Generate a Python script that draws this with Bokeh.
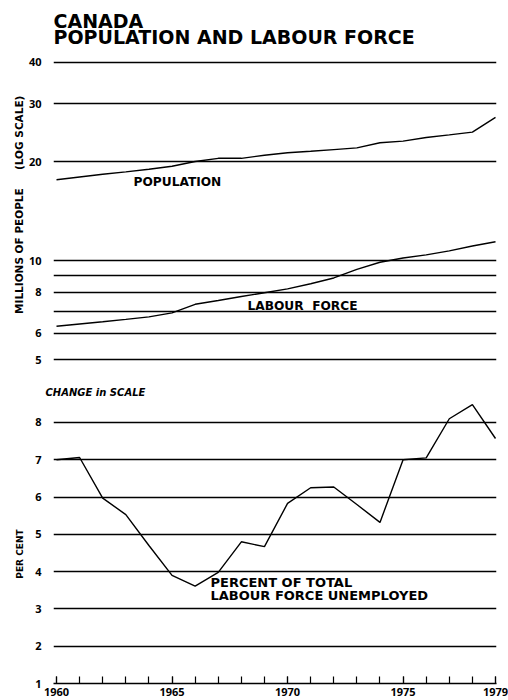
from bokeh.plotting import figure
from bokeh.layouts import column
from bokeh.models import Range1d, FixedTicker, Title, NumeralTickFormatter
from bokeh.embed import file_html
from bokeh.resources import INLINE
from bokeh.core.properties import value

# ---------------- data ----------------
years = list(range(1960, 1980))
population = [17.6, 17.95, 18.3, 18.6, 18.95, 19.35, 20.0, 20.45, 20.45, 20.9,
              21.26, 21.48, 21.74, 22.0, 22.8, 23.07, 23.66, 24.1, 24.56, 27.25]
labour_force = [6.31, 6.41, 6.51, 6.62, 6.74, 6.93, 7.36, 7.56, 7.77, 7.98,
                8.2, 8.5, 8.85, 9.4, 9.88, 10.18, 10.4, 10.7, 11.07, 11.4]
unemployment = [7.0, 7.06, 5.97, 5.53, 4.7, 3.9, 3.61, 3.98, 4.8, 4.67,
                5.83, 6.25, 6.27, 5.8, 5.32, 7.0, 7.05, 8.1, 8.48, 7.57]

log_grid_ticks = [5, 6, 7, 8, 9, 10, 20, 30, 40]
log_label_ticks = [5, 6, 8, 10, 20, 30, 40]
pct_ticks = [1, 2, 3, 4, 5, 6, 7, 8]
pct_grid_ticks = [2, 3, 4, 5, 6, 7, 8]
year_label_ticks = [1960, 1965, 1970, 1975, 1979]

title_lines = ["CANADA", "POPULATION AND LABOUR FORCE"]

FONT = "DejaVu Sans"
NUM_FONT = "Open Sans"
NB = "\u00a0"

x_range = Range1d(1959.870, 1979.043)

# ---------------- top panel (log scale) ----------------
top = figure(width=508, height=383, x_range=x_range, y_range=Range1d(4.227, 61.74),
             y_axis_type="log", output_backend="svg", toolbar_location=None,
             min_border_left=53, min_border_right=12, min_border_bottom=0,
             min_border_top=0, outline_line_color=None)

top.xaxis.visible = False
top.xgrid.visible = False
top.ygrid.ticker = FixedTicker(ticks=log_grid_ticks)
top.ygrid.grid_line_color = "black"
top.ygrid.grid_line_width = 1.3
top.yaxis.ticker = FixedTicker(ticks=log_label_ticks)
top.yaxis.formatter = NumeralTickFormatter(format="0")
top.yaxis.axis_line_color = None
top.yaxis.major_tick_line_color = None
top.yaxis.minor_tick_line_color = None
top.yaxis.major_label_standoff = 6
top.yaxis.major_label_text_font = NUM_FONT
top.yaxis.major_label_text_font_style = "bold"
top.yaxis.major_label_text_font_size = "11px"
top.yaxis.major_label_text_color = "black"
top.yaxis.axis_label = "MILLIONS OF PEOPLE" + NB * 5 + "(LOG SCALE)" + NB * 7
top.yaxis.axis_label_text_font = FONT
top.yaxis.axis_label_text_font_size = "10.5px"
top.yaxis.axis_label_text_font_style = "bold"
top.yaxis.axis_label_text_color = "black"
top.yaxis.axis_label_standoff = 1

# title, two tight lines
top.text(x=[1959.87, 1959.87], y=[53.3, 47.98], text=title_lines,
         text_font=value(FONT), text_font_style="bold", text_font_size="19px",
         text_baseline="middle", text_align="left", text_color="black")

top.line(years, population, line_color="black", line_width=1.4)
top.line(years, labour_force, line_color="black", line_width=1.4)

top.text(x=[1963.333], y=[17.3], text=["POPULATION"], text_font=value(FONT),
         text_font_style="bold", text_font_size="12.2px", text_baseline="middle",
         text_align="left", text_color="black")
top.text(x=[1968.267], y=[7.25], text=["LABOUR" + NB * 2 + "FORCE"], text_font=value(FONT),
         text_font_style="bold", text_font_size="12.2px", text_baseline="middle",
         text_align="left", text_color="black")

# ---------------- bottom panel (per cent) ----------------
bot = figure(width=508, height=317, x_range=x_range, y_range=Range1d(1, 8.616),
             output_backend="svg", toolbar_location=None,
             min_border_left=53, min_border_right=12, min_border_top=16,
             min_border_bottom=17, outline_line_color=None)
bot.add_layout(Title(text="CHANGE in SCALE", align="left", offset=-8, standoff=3,
                     text_font=FONT, text_font_style="bold italic",
                     text_font_size="10px", text_color="black"), "above")

bot.xgrid.visible = False
bot.ygrid.ticker = FixedTicker(ticks=pct_grid_ticks)
bot.ygrid.grid_line_color = "black"
bot.ygrid.grid_line_width = 1.3
bot.yaxis.ticker = FixedTicker(ticks=pct_ticks)
bot.yaxis.axis_line_color = None
bot.yaxis.major_tick_line_color = None
bot.yaxis.minor_tick_line_color = None
bot.yaxis.major_label_standoff = 6
bot.yaxis.major_label_text_font = NUM_FONT
bot.yaxis.major_label_text_font_style = "bold"
bot.yaxis.major_label_text_font_size = "11px"
bot.yaxis.major_label_text_color = "black"
bot.yaxis.axis_label = "PER CENT" + NB * 8
bot.yaxis.axis_label_text_font = FONT
bot.yaxis.axis_label_text_font_size = "9px"
bot.yaxis.axis_label_text_font_style = "bold"
bot.yaxis.axis_label_text_color = "black"
bot.yaxis.axis_label_standoff = 7

bot.xaxis.ticker = FixedTicker(ticks=year_label_ticks, minor_ticks=years)
bot.xaxis.axis_line_color = "black"
bot.xaxis.axis_line_width = 1.5
bot.xaxis.major_tick_in = 7
bot.xaxis.major_tick_out = 0
bot.xaxis.minor_tick_in = 7
bot.xaxis.minor_tick_out = 0
bot.xaxis.major_tick_line_color = "black"
bot.xaxis.minor_tick_line_color = "black"
bot.xaxis.major_tick_line_width = 1.2
bot.xaxis.minor_tick_line_width = 1.2
bot.xaxis.major_label_standoff = 4
bot.xaxis.major_label_text_font = NUM_FONT
bot.xaxis.major_label_text_font_style = "bold"
bot.xaxis.major_label_text_font_size = "11px"
bot.xaxis.major_label_text_color = "black"

bot.line(years, unemployment, line_color="black", line_width=1.4)

bot.text(x=[1966.665, 1966.665], y=[3.708, 3.36],
         text=["PERCENT OF TOTAL", "LABOUR FORCE UNEMPLOYED"],
         text_font=value(FONT), text_font_style="bold", text_font_size="13px",
         text_baseline="middle", text_align="left", text_color="black")

p = column(top, bot)
open("out.html", "w").write(file_html(p, INLINE))
